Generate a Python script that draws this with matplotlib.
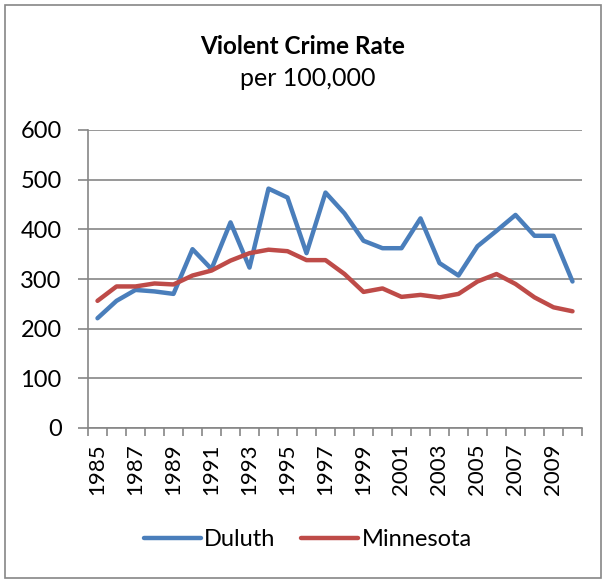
import numpy as np
import matplotlib.pyplot as plt
from matplotlib.patches import Rectangle

years = list(range(1985, 2011))
duluth = [221, 256, 278, 275, 270, 360, 320, 414, 323, 482, 464, 352, 474,
          432, 377, 362, 362, 422, 332, 307, 366, 397, 429, 387, 387, 295]
minnesota = [256, 285, 285, 291, 289, 307, 317, 337, 352, 359, 356, 338, 338,
             310, 274, 281, 264, 268, 263, 270, 295, 310, 290, 263, 243, 235]

plt.rcParams['font.family'] = ['Lato', 'DejaVu Sans']
grid_c = '#868686'

fig = plt.figure(figsize=(6.06, 5.80), dpi=100)
fig.patches.append(Rectangle((0.009, 0.004), 0.982, 0.988, transform=fig.transFigure,
                             fill=False, edgecolor=grid_c, linewidth=1.2))

ax = fig.add_axes([88/606, 1 - 428/580, 494/606, 298/580])
x = np.arange(len(years))
ax.plot(x, duluth, color='#4A7EBB', lw=3.2, label='Duluth', solid_capstyle='round')
ax.plot(x, minnesota, color='#BE4B48', lw=3.2, label='Minnesota', solid_capstyle='round')

ax.set_xlim(-0.5, len(years) - 0.5)
ax.set_ylim(0, 600)
ax.set_yticks(range(0, 601, 100))
ax.yaxis.grid(True, color=grid_c, lw=1.2)
ax.set_axisbelow(True)
for s in ['top', 'right']:
    ax.spines[s].set_visible(False)
for s in ['left', 'bottom']:
    ax.spines[s].set_color(grid_c)
    ax.spines[s].set_linewidth(1.2)

# tick marks between categories, labels on every other year
ax.set_xticks(np.arange(-0.5, len(years), 1), minor=False)
ax.set_xticklabels([])
ax.set_xticks(x[::2], minor=True)
ax.set_xticklabels([str(y) for y in years[::2]], minor=True, rotation=90, fontsize=16)
ax.tick_params(axis='x', which='major', length=6, color=grid_c, width=1.2, direction='out')
ax.tick_params(axis='x', which='minor', length=0, pad=11)
ax.tick_params(axis='y', length=7, color=grid_c, width=1.2, labelsize=17, pad=12)

fig.text(0.5, 1 - 46/580, 'Violent Crime Rate', ha='center', va='center',
         fontsize=17.5, fontweight='bold')
fig.text(0.508, 1 - 79/580, 'per 100,000', ha='center', va='center', fontsize=18)

fig.legend(loc='center', bbox_to_anchor=(0.508, 1 - 540/580), ncol=2, frameon=False,
           fontsize=17, handlelength=2.4, handletextpad=0.15, columnspacing=1.1)

fig.savefig('out.png', dpi=100)
